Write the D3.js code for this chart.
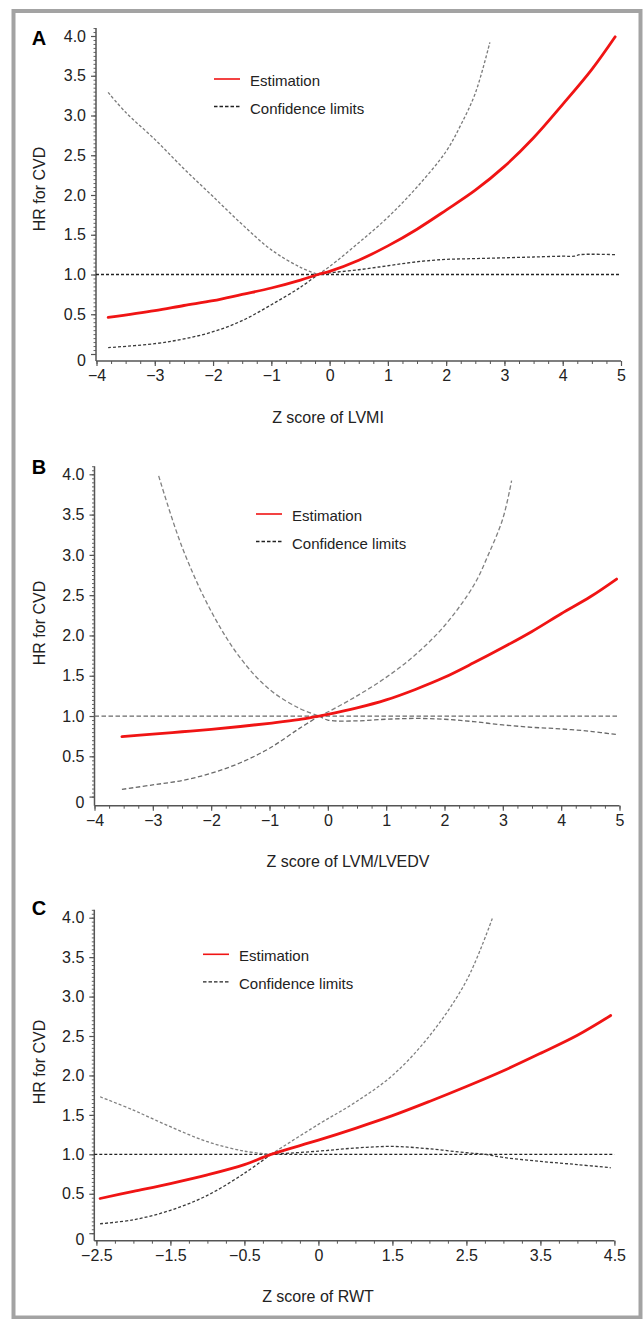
<!DOCTYPE html>
<html>
<head>
<meta charset="utf-8">
<script src="https://cdn.jsdelivr.net/npm/d3@7"></script>
<style>
  body { margin: 0; background: #fff; }
  svg { display: block; font-family: "Liberation Sans", Arial, Helvetica, sans-serif; }
</style>
</head>
<body>
<svg id="chart" width="643" height="1319"></svg>
<script>
// ---- shared axis values ----
const yTicks = [0, 0.5, 1, 1.5, 2, 2.5, 3, 3.5, 4];
const yLabels = ['0', '0.5', '1.0', '1.5', '2.0', '2.5', '3.0', '3.5', '4.0'];
const legendLabels = ['Estimation', 'Confidence limits'];

// ---- panel A: LVMI ----
const lvmiTicks = [-4, -3, -2, -1, 0, 1, 2, 3, 4, 5];
const lvmiLabels = ['\u22124', '\u22123', '\u22122', '\u22121', '0', '1', '2', '3', '4', '5'];
const lvmiEstX = [-3.8, -3, -2.5, -2, -1.5, -1, -0.5, -0.2, 0, 0.5, 1, 1.5, 2, 2.5, 3, 3.5, 4, 4.5, 4.9];
const lvmiEst = [0.46, 0.545, 0.61, 0.67, 0.75, 0.83, 0.93, 1.0, 1.04, 1.18, 1.36, 1.57, 1.81, 2.06, 2.36, 2.72, 3.14, 3.58, 3.99];
const lvmiUpX = [-3.8, -3.5, -3, -2.5, -2, -1.5, -1, -0.5, -0.2, 0, 0.5, 1, 1.5, 2, 2.25, 2.5, 2.75];
const lvmiUp = [3.29, 3.04, 2.7, 2.33, 1.98, 1.63, 1.31, 1.09, 1.0, 1.1, 1.4, 1.72, 2.1, 2.55, 2.88, 3.28, 3.92];
const lvmiLoX = [-3.8, -3, -2.5, -2, -1.5, -1, -0.5, -0.2, 0, 0.5, 1, 1.5, 2, 2.5, 3, 3.5, 4, 4.2, 4.3, 4.9];
const lvmiLo = [0.08, 0.13, 0.19, 0.28, 0.42, 0.62, 0.84, 1.0, 1.02, 1.06, 1.11, 1.16, 1.19, 1.2, 1.21, 1.22, 1.23, 1.23, 1.25, 1.25];

// ---- panel B: LVM/LVEDV ----
const ratioTicks = lvmiTicks;
const ratioLabels = lvmiLabels;
const ratioEstX = [-3.53, -3, -2.5, -2, -1.5, -1, -0.5, -0.15, 0, 0.5, 1, 1.5, 2, 2.5, 3, 3.5, 4, 4.5, 4.95];
const ratioEst = [0.745, 0.775, 0.805, 0.835, 0.87, 0.91, 0.955, 1.0, 1.02, 1.1, 1.2, 1.33, 1.48, 1.66, 1.85, 2.05, 2.27, 2.48, 2.7];
const ratioUpX = [-2.9, -2.5, -2, -1.5, -1, -0.5, -0.15, 0, 0.5, 1, 1.5, 2, 2.5, 2.75, 3, 3.15];
const ratioUp = [3.98, 3.1, 2.3, 1.72, 1.33, 1.1, 1.0, 1.05, 1.25, 1.48, 1.76, 2.12, 2.62, 3.0, 3.45, 3.92];
const ratioLoX = [-3.53, -3, -2.5, -2, -1.5, -1, -0.5, -0.15, 0, 0.5, 1, 1.5, 2, 2.5, 3, 3.5, 4, 4.5, 4.95];
const ratioLo = [0.09, 0.145, 0.2, 0.29, 0.42, 0.6, 0.84, 1.0, 0.95, 0.94, 0.96, 0.97, 0.96, 0.93, 0.89, 0.86, 0.84, 0.81, 0.77];

// ---- panel C: RWT ----
const rwtTicks = [-2.5, -1.5, -0.5, 0.5, 1.5, 2.5, 3.5, 4.5];
const rwtLabels = ['\u22122.5', '\u22121.5', '\u22120.5', '0', '1.5', '2.5', '3.5', '4.5'];
const rwtEstX = [-2.45, -2, -1.5, -1, -0.5, -0.14, 0.5, 1, 1.5, 2, 2.5, 3, 3.5, 4, 4.45];
const rwtEst = [0.44, 0.53, 0.63, 0.74, 0.87, 1.0, 1.18, 1.33, 1.49, 1.67, 1.86, 2.06, 2.28, 2.51, 2.76];
const rwtUpX = [-2.45, -2, -1.5, -1, -0.5, -0.14, 0.5, 1, 1.5, 2, 2.5, 2.85];
const rwtUp = [1.73, 1.56, 1.35, 1.16, 1.04, 1.0, 1.38, 1.66, 2.0, 2.5, 3.2, 3.99];
const rwtLoX = [-2.45, -2, -1.5, -1, -0.5, -0.14, 0.5, 1, 1.5, 2, 2.5, 2.75, 3, 3.5, 4, 4.45];
const rwtLo = [0.12, 0.17, 0.29, 0.48, 0.76, 1.0, 1.04, 1.08, 1.1, 1.07, 1.02, 1.0, 0.96, 0.91, 0.87, 0.83];

const svg = d3.select('#chart');

// outer grey frame
svg.append('rect')
  .attr('x', 13.5).attr('y', 11)
  .attr('width', 627).attr('height', 1306.5)
  .attr('fill', 'none').attr('stroke', '#a3a3a3').attr('stroke-width', 4);

const panels = [
  {
    letter: 'A', title: 'Z score of LVMI',
    xDomain: [-4, 5], xRange: [96.5, 621], yRange: [354, 36], axisX: 96, axisY: 361,
    ticks: lvmiTicks, labels: lvmiLabels, pivot: -0.2,
    est: d3.zip(lvmiEstX, lvmiEst), up: d3.zip(lvmiUpX, lvmiUp), lo: d3.zip(lvmiLoX, lvmiLo),
    upColor: '#7a7a7a', loColor: '#3a3a3a', refColor: '#222', dash: '3,2',
    legend: [214, 79], letterPos: [39, 45], yTitle: [39, 189], xTitle: [328, 423]
  },
  {
    letter: 'B', title: 'Z score of LVM/LVEDV',
    xDomain: [-4, 5], xRange: [94.5, 619.5], yRange: [796.6, 474.3], axisX: 94.5, axisY: 805.7,
    ticks: ratioTicks, labels: ratioLabels, pivot: -0.15,
    est: d3.zip(ratioEstX, ratioEst), up: d3.zip(ratioUpX, ratioUp), lo: d3.zip(ratioLoX, ratioLo),
    upColor: '#808080', loColor: '#6a6a6a', refColor: '#6a6a6a', dash: '4.5,2.5',
    legend: [256, 514], letterPos: [39, 474], yTitle: [39, 623], xTitle: [348, 867]
  },
  {
    letter: 'C', title: 'Z score of RWT',
    xDomain: [-2.5, 4.5], xRange: [96.4, 614.4], yRange: [1233.2, 917.7], axisX: 94.3, axisY: 1240.7,
    ticks: rwtTicks, labels: rwtLabels, pivot: -0.14,
    est: d3.zip(rwtEstX, rwtEst), up: d3.zip(rwtUpX, rwtUp), lo: d3.zip(rwtLoX, rwtLo),
    upColor: '#808080', loColor: '#3a3a3a', refColor: '#222', dash: '3,2',
    legend: [203, 954.3], letterPos: [39, 915], yTitle: [39, 1062], xTitle: [318, 1302]
  }
];

panels.forEach(drawPanel);

function drawPanel(p) {
  const g = svg.append('g');
  const x = d3.scaleLinear().domain(p.xDomain).range(p.xRange);
  const y = d3.scaleLinear().domain([0, 4]).range(p.yRange);

  // minor ticks
  g.append('g')
    .attr('transform', `translate(0,${p.axisY})`)
    .call(d3.axisBottom(x).tickValues(d3.range(p.xDomain[0], p.xDomain[1] + 0.001, 0.25))
      .tickSize(3).tickSizeOuter(0).tickFormat(''))
    .call(s => s.select('.domain').remove())
    .call(s => s.selectAll('line').attr('stroke', '#555'));
  g.append('g')
    .attr('transform', `translate(${p.axisX},0)`)
    .call(d3.axisLeft(y).tickValues(d3.range(0, 4.11, 0.05)).tickSize(2.5).tickSizeOuter(0).tickFormat(''))
    .call(s => s.select('.domain').remove())
    .call(s => s.selectAll('line').attr('stroke', '#666'));

  // major ticks + labels
  const xa = g.append('g')
    .attr('transform', `translate(0,${p.axisY})`)
    .call(d3.axisBottom(x).tickValues(p.ticks).tickFormat((d, i) => p.labels[i])
      .tickSize(5).tickSizeOuter(0).tickPadding(4));
  const ya = g.append('g')
    .attr('transform', `translate(${p.axisX},0)`)
    .call(d3.axisLeft(y).tickValues(yTicks).tickFormat((d, i) => yLabels[i])
      .tickSize(5).tickSizeOuter(0).tickPadding(5));
  [xa, ya].forEach(a => {
    a.select('.domain').remove();
    a.selectAll('line').attr('stroke', '#555').attr('stroke-width', 1.2);
    a.selectAll('text').attr('font-size', 16).attr('fill', '#222')
      .attr('font-family', '"Liberation Sans", Arial, sans-serif');
  });
  ya.selectAll('text').filter(d => d === 0).attr('dy', '0.7em');

  // axis lines
  g.append('line')
    .attr('x1', p.axisX).attr('x2', x(p.xDomain[1]))
    .attr('y1', p.axisY).attr('y2', p.axisY)
    .attr('stroke', '#555').attr('stroke-width', 1.5);
  g.append('line')
    .attr('x1', p.axisX).attr('x2', p.axisX)
    .attr('y1', p.axisY).attr('y2', y(4.1))
    .attr('stroke', '#555').attr('stroke-width', 1.5);

  // reference line at HR = 1
  g.append('line')
    .attr('x1', p.axisX).attr('x2', x(p.xDomain[1]))
    .attr('y1', y(1)).attr('y2', y(1))
    .attr('stroke', p.refColor).attr('stroke-width', 1.3)
    .attr('stroke-dasharray', p.dash);

  const line = d3.line()
    .x(d => x(d[0])).y(d => y(d[1]))
    .curve(d3.curveCatmullRom.alpha(0.5));

  // confidence limits, split at the reference point so the pinch stays sharp
  [[p.up, p.upColor], [p.lo, p.loColor]].forEach(([data, color]) => {
    const left = data.filter(d => d[0] <= p.pivot);
    const right = data.filter(d => d[0] >= p.pivot);
    [left, right].forEach(part => {
      g.append('path')
        .attr('d', line(part))
        .attr('fill', 'none')
        .attr('stroke', color)
        .attr('stroke-width', 1.3)
        .attr('stroke-dasharray', p.dash);
    });
  });

  // estimate
  g.append('path')
    .attr('d', line(p.est))
    .attr('fill', 'none')
    .attr('stroke', '#f01414')
    .attr('stroke-width', 2.8)
    .attr('stroke-linecap', 'round');

  // legend
  const [lx, ly] = p.legend;
  const lg = g.append('g').attr('transform', `translate(${lx},${ly})`);
  lg.append('line').attr('x1', 0).attr('x2', 26).attr('y1', 0).attr('y2', 0)
    .attr('stroke', '#f01414').attr('stroke-width', 1.6);
  lg.append('line').attr('x1', 0).attr('x2', 26).attr('y1', 27.5).attr('y2', 27.5)
    .attr('stroke', '#222').attr('stroke-width', 1.3).attr('stroke-dasharray', '3.5,2');
  lg.selectAll('text.lab')
    .data(legendLabels)
    .join('text')
    .attr('class', 'lab')
    .attr('x', 36)
    .attr('y', (d, i) => i * 27.5 + 7)
    .attr('font-size', 15)
    .attr('fill', '#222')
    .text(d => d);

  // panel letter and titles
  g.append('text')
    .attr('x', p.letterPos[0]).attr('y', p.letterPos[1])
    .attr('text-anchor', 'middle')
    .attr('font-size', 20).attr('font-weight', 'bold').attr('fill', '#000')
    .text(p.letter);
  g.append('text')
    .attr('transform', `translate(${p.yTitle[0] + 6},${p.yTitle[1]}) rotate(-90)`)
    .attr('text-anchor', 'middle')
    .attr('font-size', 16).attr('fill', '#222')
    .text('HR for CVD');
  g.append('text')
    .attr('x', p.xTitle[0]).attr('y', p.xTitle[1])
    .attr('text-anchor', 'middle')
    .attr('font-size', 16).attr('fill', '#222')
    .text(p.title);
}
</script>
</body>
</html>
